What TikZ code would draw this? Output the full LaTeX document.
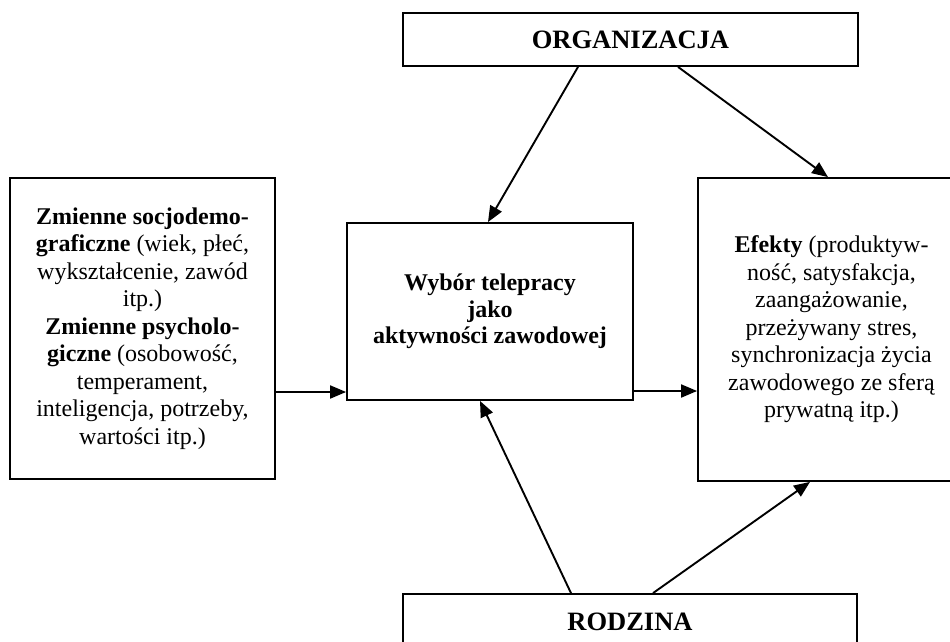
\documentclass[tikz,border=0pt]{standalone}
\usepackage{fontspec}
\setmainfont{Liberation Serif}
\usetikzlibrary{arrows.meta,calc}
\begin{document}
\begin{tikzpicture}[x=1pt,y=-1pt,
  box/.style={draw,line width=1.8pt,inner sep=0pt,align=center,
    font=\fontsize{24}{27.5}\selectfont},
  head/.style={font=\fontsize{26.5}{30}\selectfont\bfseries},
  arr/.style={line width=1.9pt,-{Triangle[length=16pt,width=13pt]}}]
\useasboundingbox (0,0) rectangle (950,642);
\clip (0,0) rectangle (950,642);
\fill[white] (0,0) rectangle (950,642);
\node[box,head,minimum width=455pt,minimum height=53pt] (org) at (630.5,39.5) {ORGANIZACJA};
\node[box,head,minimum width=454pt,minimum height=56pt] (rod) at (630,622) {RODZINA};
\node[box,minimum width=265pt,minimum height=301pt] (lft) at (142.5,328.5)
  {\textbf{Zmienne socjodemo-}\\ \textbf{graficzne} (wiek, płeć,\\ wykształcenie, zawód\\ itp.)\\ \textbf{Zmienne psycholo-}\\ \textbf{giczne} (osobowość,\\ temperament,\\ inteligencja, potrzeby,\\ wartości itp.)};
\node[box,minimum width=286pt,minimum height=177pt,font=\fontsize{24}{26.5}\selectfont] (mid) at (490,311.5)
  {\textbf{Wybór telepracy}\\ \textbf{jako}\\ \textbf{aktywności zawodowej}};
\node[box,minimum width=267pt,minimum height=303pt] (rgt) at (831.5,329.5)
  {\textbf{Efekty} (produktyw-\\ ność, satysfakcja,\\ zaangażowanie,\\ przeżywany stres,\\ synchronizacja życia\\ zawodowego ze sferą\\ prywatną itp.)};
\coordinate (lvA) at (0,392);
\coordinate (lvB) at (0,391);
\draw[arr] ([xshift=-52.5pt]org.south) -- ([xshift=-2pt]mid.north);
\draw[arr] ([xshift=47.5pt]org.south) -- ([xshift=-3.5pt]rgt.north);
\draw[arr] ([xshift=-59pt]rod.north) -- ([xshift=-10pt]mid.south);
\draw[arr] ([xshift=23pt]rod.north) -- ([xshift=-21.5pt]rgt.south);
\draw[arr] (lft.east |- lvA) -- (mid.west |- lvA);
\draw[arr] (mid.east |- lvB) -- (rgt.west |- lvB);
\end{tikzpicture}
\end{document}
